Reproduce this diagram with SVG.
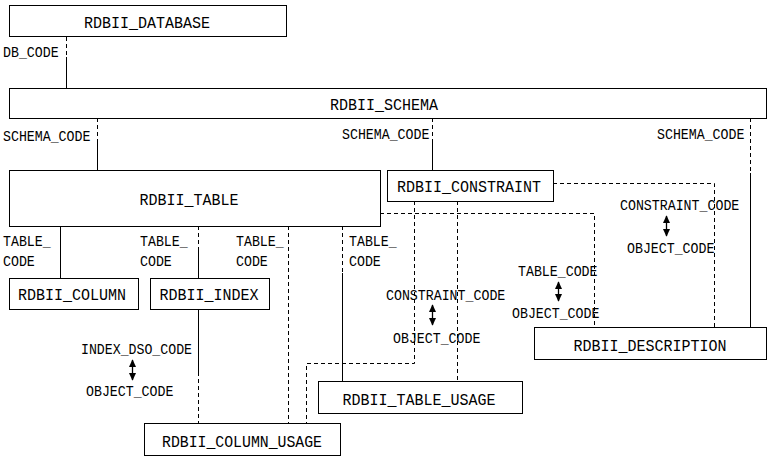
<svg xmlns="http://www.w3.org/2000/svg" width="771" height="459" viewBox="0 0 771 459">
<style>
.box{fill:#fff;stroke:#000;stroke-width:1}
.bt{font-family:"Liberation Mono","DejaVu Sans Mono",monospace;font-size:16px;fill:#000;text-anchor:middle}
.lt{font-family:"Liberation Mono","DejaVu Sans Mono",monospace;font-size:14.5px;fill:#000}
.s{stroke:#000;stroke-width:1;fill:none}
.d{stroke:#000;stroke-width:1;fill:none;stroke-dasharray:4,3}
.a{stroke:#000;stroke-width:1.3;fill:none;marker-start:url(#ah);marker-end:url(#ah)}
</style>
<defs>
<marker id="ah" viewBox="0 0 10 10" refX="9" refY="5" markerWidth="8" markerHeight="8" markerUnits="userSpaceOnUse" orient="auto-start-reverse">
<path d="M0,0.5 L10,5 L0,9.5 z" fill="#000"/>
</marker>
</defs>
<rect width="771" height="459" fill="#fff"/>
<g id="connectors">
<path class="d" d="M66.5,37 V57"/><path class="s" d="M66.5,57 V88"/>
<path class="d" d="M97.5,118 V140"/><path class="s" d="M97.5,140 V170"/>
<path class="d" d="M432.5,118 V140"/><path class="s" d="M432.5,140 V170"/>
<path class="d" d="M750.5,118 V173"/><path class="s" d="M750.5,173 V327"/>
<path class="s" d="M60.5,226 V278"/>
<path class="d" d="M198.5,226 V247"/><path class="s" d="M198.5,247 V278"/>
<path class="s" d="M198.5,309 V372"/><path class="d" d="M198.5,372 V423"/>
<path class="d" d="M288.5,226 V423"/>
<path class="d" d="M342.5,226 V273"/><path class="s" d="M342.5,273 V381"/>
<path class="d" d="M414.5,201 V363.5 H306.5 V423"/>
<path class="d" d="M457.5,201 V381"/>
<path class="d" d="M380,213.5 H594.5 V327"/>
<path class="d" d="M553,183.5 H714.5 V327"/>
<path class="a" d="M132.5,360 V380"/>
<path class="a" d="M432.5,305 V325"/>
<path class="a" d="M558.5,282 V301"/>
<path class="a" d="M666.5,216 V236"/>
</g>
<g id="labels">
<text class="lt" x="3" y="57" textLength="55.6" lengthAdjust="spacingAndGlyphs">DB_CODE</text>
<text class="lt" x="3" y="141" textLength="87.4" lengthAdjust="spacingAndGlyphs">SCHEMA_CODE</text>
<text class="lt" x="342" y="139" textLength="87.4" lengthAdjust="spacingAndGlyphs">SCHEMA_CODE</text>
<text class="lt" x="657" y="139" textLength="87.4" lengthAdjust="spacingAndGlyphs">SCHEMA_CODE</text>
<text class="lt" x="3" y="246" textLength="47.7" lengthAdjust="spacingAndGlyphs">TABLE_</text><text class="lt" x="3" y="266" textLength="31.8" lengthAdjust="spacingAndGlyphs">CODE</text>
<text class="lt" x="140" y="246" textLength="47.7" lengthAdjust="spacingAndGlyphs">TABLE_</text><text class="lt" x="140" y="266" textLength="31.8" lengthAdjust="spacingAndGlyphs">CODE</text>
<text class="lt" x="236" y="246" textLength="47.7" lengthAdjust="spacingAndGlyphs">TABLE_</text><text class="lt" x="236" y="266" textLength="31.8" lengthAdjust="spacingAndGlyphs">CODE</text>
<text class="lt" x="349" y="246" textLength="47.7" lengthAdjust="spacingAndGlyphs">TABLE_</text><text class="lt" x="349" y="266" textLength="31.8" lengthAdjust="spacingAndGlyphs">CODE</text>
<text class="lt" x="81" y="354" textLength="111" lengthAdjust="spacingAndGlyphs">INDEX_DSO_CODE</text>
<text class="lt" x="86" y="396" textLength="87.4" lengthAdjust="spacingAndGlyphs">OBJECT_CODE</text>
<text class="lt" x="386" y="300" textLength="119.3" lengthAdjust="spacingAndGlyphs">CONSTRAINT_CODE</text>
<text class="lt" x="393" y="343" textLength="87.4" lengthAdjust="spacingAndGlyphs">OBJECT_CODE</text>
<text class="lt" x="518" y="276" textLength="79.5" lengthAdjust="spacingAndGlyphs">TABLE_CODE</text>
<text class="lt" x="512" y="318" textLength="87.4" lengthAdjust="spacingAndGlyphs">OBJECT_CODE</text>
<text class="lt" x="620" y="210" textLength="119.3" lengthAdjust="spacingAndGlyphs">CONSTRAINT_CODE</text>
<text class="lt" x="627" y="253" textLength="87.4" lengthAdjust="spacingAndGlyphs">OBJECT_CODE</text>
</g>
<g id="RDBII_DATABASE"><rect class="box" x="9.5" y="5.5" width="277" height="31"/><text class="bt" x="147" y="28" textLength="126" lengthAdjust="spacingAndGlyphs">RDBII_DATABASE</text></g>
<g id="RDBII_SCHEMA"><rect class="box" x="9.5" y="88.5" width="757" height="30"/><text class="bt" x="384" y="110" textLength="108" lengthAdjust="spacingAndGlyphs">RDBII_SCHEMA</text></g>
<g id="RDBII_TABLE"><rect class="box" x="9.5" y="170.5" width="371" height="56"/><text class="bt" x="189" y="205" textLength="99" lengthAdjust="spacingAndGlyphs">RDBII_TABLE</text></g>
<g id="RDBII_CONSTRAINT"><rect class="box" x="387.5" y="170.5" width="166" height="31"/><text class="bt" x="469" y="192" textLength="144" lengthAdjust="spacingAndGlyphs">RDBII_CONSTRAINT</text></g>
<g id="RDBII_COLUMN"><rect class="box" x="9.5" y="278.5" width="129" height="31"/><text class="bt" x="72" y="300" textLength="108" lengthAdjust="spacingAndGlyphs">RDBII_COLUMN</text></g>
<g id="RDBII_INDEX"><rect class="box" x="150.5" y="278.5" width="119" height="31"/><text class="bt" x="209" y="300" textLength="99" lengthAdjust="spacingAndGlyphs">RDBII_INDEX</text></g>
<g id="RDBII_DESCRIPTION"><rect class="box" x="534.5" y="327.5" width="232" height="32"/><text class="bt" x="650" y="351" textLength="153" lengthAdjust="spacingAndGlyphs">RDBII_DESCRIPTION</text></g>
<g id="RDBII_TABLE_USAGE"><rect class="box" x="318.5" y="381.5" width="204" height="32"/><text class="bt" x="419" y="405" textLength="153" lengthAdjust="spacingAndGlyphs">RDBII_TABLE_USAGE</text></g>
<g id="RDBII_COLUMN_USAGE"><rect class="box" x="144.5" y="423.5" width="196" height="32"/><text class="bt" x="242" y="447" textLength="160" lengthAdjust="spacingAndGlyphs">RDBII_COLUMN_USAGE</text></g>
</svg>
